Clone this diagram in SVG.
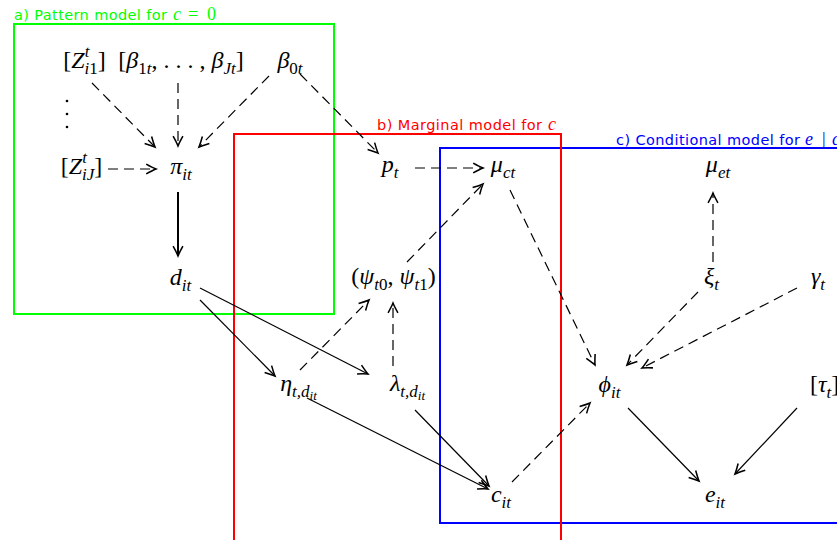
<svg xmlns="http://www.w3.org/2000/svg" width="837" height="540" viewBox="0 0 837 540">
<style>
.m{font-family:"Liberation Serif",serif;font-style:italic;font-size:24px;fill:#000}
.r{font-style:normal}
.s{font-size:17px}
.ss{font-size:13px}
.lab{font-family:"DejaVu Sans",sans-serif;font-size:14.5px}
.lm{font-family:"Liberation Serif",serif;font-style:italic;font-size:18px}
.d{stroke:#000;stroke-width:1.2;fill:none;stroke-dasharray:10 6;marker-end:url(#ah)}
.l{stroke:#000;stroke-width:1.2;fill:none;marker-end:url(#ah)}
.box{fill:none;stroke-width:2}
</style>
<defs>
<marker id="ah" markerUnits="userSpaceOnUse" markerWidth="14" markerHeight="14" viewBox="-8 -5 10 10" refX="0" refY="0" orient="auto">
<path d="M-7,-3.5 Q-2.5,-1 0,0 Q-2.5,1 -7,3.5" fill="none" stroke="#000" stroke-width="1.1"/>
</marker>
</defs>
<rect width="837" height="540" fill="#fff"/>
<g id="boxes">
<rect class="box" x="14" y="24" width="320" height="290" stroke="#00ff00"/>
<rect class="box" x="440" y="148" width="420" height="375" stroke="#0000ff"/>
<rect class="box" x="234" y="134" width="327" height="420" stroke="#ff0000"/>
<text class="lab" x="14" y="20" fill="#00ff00" textLength="153" lengthAdjust="spacing">a) Pattern model for</text>
<text class="lm" fill="#00ff00" y="20"><tspan x="173">c</tspan><tspan class="r" x="188">=</tspan><tspan class="r" x="207">0</tspan></text>
<text class="lab" x="377" y="130" fill="#ff0000" textLength="165" lengthAdjust="spacing">b) Marginal model for</text>
<text class="lm" x="548" y="130" fill="#ff0000">c</text>
<text class="lab" x="616" y="145" fill="#0000ff" textLength="184" lengthAdjust="spacing">c) Conditional model for</text>
<text class="lm" fill="#0000ff" y="145"><tspan x="805">e</tspan><tspan class="r" x="822">|</tspan><tspan x="832">c</tspan></text>
</g>
<g id="connectors">
<line class="d" x1="92" y1="83" x2="155" y2="147"/>
<line class="d" x1="178" y1="83" x2="178" y2="146"/>
<line class="d" x1="269" y1="76" x2="199" y2="147"/>
<line class="d" x1="108" y1="169" x2="156" y2="169"/>
<line class="d" x1="300" y1="74" x2="378" y2="153"/>
<line class="d" x1="415" y1="168" x2="483" y2="168"/>
<line class="d" x1="407" y1="262" x2="483" y2="184"/>
<line class="d" x1="300" y1="370" x2="369" y2="300"/>
<line class="d" x1="393" y1="366" x2="393" y2="303"/>
<line class="d" x1="510" y1="190" x2="595" y2="365"/>
<line class="d" x1="698" y1="292" x2="627" y2="365"/>
<line class="d" x1="797" y1="288" x2="642" y2="368"/>
<line class="d" x1="713" y1="262" x2="713" y2="193"/>
<line class="d" x1="512" y1="482" x2="590" y2="403"/>
<line class="l" x1="178" y1="192" x2="178" y2="256" style="stroke-width:2"/>
<line class="l" x1="200" y1="288" x2="368" y2="374"/>
<line class="l" x1="200" y1="300" x2="275" y2="376"/>
<line class="l" x1="307" y1="398" x2="488" y2="489"/>
<line class="l" x1="415" y1="410" x2="489" y2="486"/>
<line class="l" x1="628" y1="408" x2="699" y2="481"/>
<line class="l" x1="797" y1="408" x2="735" y2="474"/>
</g>
<g id="Zi1"><text class="m" x="84.5" y="68" text-anchor="middle"><tspan class="r">[</tspan>Z<tspan class="s" dy="-11">t</tspan><tspan class="s" dx="-5" dy="17">i<tspan class="r">1</tspan></tspan><tspan class="r" dy="-6">]</tspan></text></g>
<g id="betas"><text class="m" x="181" y="68" text-anchor="middle"><tspan class="r">[</tspan>β<tspan class="s" dy="6"><tspan class="r">1</tspan>t</tspan><tspan class="r" dy="-6">, . . . , </tspan>β<tspan class="s" dy="6">Jt</tspan><tspan class="r" dy="-6">]</tspan></text></g>
<g id="beta0"><text class="m" x="290" y="68" text-anchor="middle">β<tspan class="s" dy="6"><tspan class="r">0</tspan>t</tspan></text></g>
<g id="vdots"><circle cx="67" cy="101" r="1.3"/><circle cx="67" cy="114" r="1.3"/><circle cx="67" cy="127" r="1.3"/></g>
<g id="ZiJ"><text class="m" x="81.5" y="174" text-anchor="middle"><tspan class="r">[</tspan>Z<tspan class="s" dy="-11">t</tspan><tspan class="s" dx="-5" dy="17">iJ</tspan><tspan class="r" dy="-6">]</tspan></text></g>
<g id="pi"><text class="m" x="181" y="174" text-anchor="middle">π<tspan class="s" dy="6">it</tspan></text></g>
<g id="d"><text class="m" x="180.5" y="285" text-anchor="middle">d<tspan class="s" dy="6">it</tspan></text></g>
<g id="pt"><text class="m" x="390" y="172" text-anchor="middle">p<tspan class="s" dy="6">t</tspan></text></g>
<g id="muct"><text class="m" x="503" y="172" text-anchor="middle">μ<tspan class="s" dy="6">ct</tspan></text></g>
<g id="muet"><text class="m" x="718" y="172" text-anchor="middle">μ<tspan class="s" dy="6">et</tspan></text></g>
<g id="psi"><text class="m" x="393.5" y="284" text-anchor="middle"><tspan class="r">(</tspan>ψ<tspan class="s" dy="6">t<tspan class="r">0</tspan></tspan><tspan class="r" dy="-6">, </tspan>ψ<tspan class="s" dy="6">t<tspan class="r">1</tspan></tspan><tspan class="r" dy="-6">)</tspan></text></g>
<g id="xi"><text class="m" x="711.5" y="284" text-anchor="middle">ξ<tspan class="s" dy="6">t</tspan></text></g>
<g id="gamma"><text class="m" x="818" y="284" text-anchor="middle">γ<tspan class="s" dy="6">t</tspan></text></g>
<g id="eta"><text class="m" x="298.5" y="391" text-anchor="middle">η<tspan class="s" dy="6">t,d</tspan><tspan class="ss" dy="3">it</tspan></text></g>
<g id="lambda"><text class="m" x="407.5" y="391" text-anchor="middle">λ<tspan class="s" dy="6">t,d</tspan><tspan class="ss" dy="3">it</tspan></text></g>
<g id="phi"><text class="m" x="609.5" y="392" text-anchor="middle">ϕ<tspan class="s" dy="6">it</tspan></text></g>
<g id="tau"><text class="m" x="810" y="392"><tspan class="r">[</tspan>τ<tspan class="s" dy="6">t</tspan><tspan class="r" dy="-6">]</tspan></text></g>
<g id="c"><text class="m" x="501" y="502" text-anchor="middle">c<tspan class="s" dy="6">it</tspan></text></g>
<g id="e"><text class="m" x="715" y="502" text-anchor="middle">e<tspan class="s" dy="6">it</tspan></text></g>
</svg>
